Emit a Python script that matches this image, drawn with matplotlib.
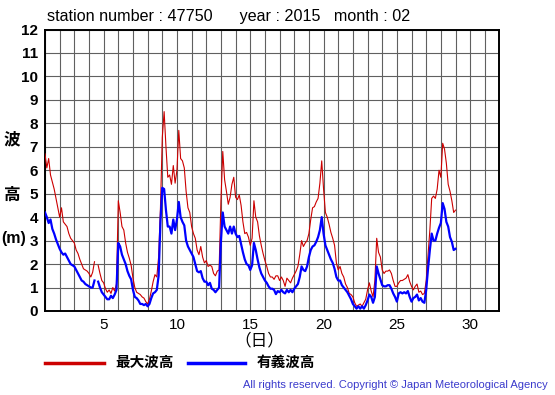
import numpy as np
import matplotlib
import matplotlib.pyplot as plt

matplotlib.use("Agg")

plt.rcParams["font.family"] = ["Liberation Sans", "Noto Sans CJK JP", "DejaVu Sans"]

RED = "#cc0000"
BLUE = "#0000ff"
GRID = "#606060"

W, H = 555, 395

# 3-hourly values, Feb 1 00h .. Mar 1 00h (nan = missing)
max_wave = [
    6.7, 6.1, 6.5, 5.8, 5.5, 5.2, 4.8, 4.4,
    4.0, 4.4, 3.8, 3.7, 3.6, 3.3, 3.1, 3.0,
    2.9, 2.6, 2.45, 2.2, 2.0, 1.8, 1.75, 1.7,
    1.6, 1.45, 1.65, 2.1, np.nan, 1.95, 1.6, 1.3,
    1.2, 0.95, 0.8, 0.9, 0.75, 1.0, 0.85, 1.15,
    4.7, 4.2, 3.6, 3.45, 2.9, 2.5, 2.25, 1.95,
    1.4, 1.0, 0.8, 0.75, 0.7, 0.6, 0.55, 0.4,
    0.3, 0.5, 0.85, 1.25, 1.55, 1.45, 2.3, 4.4,
    7.4, 8.5, 7.0, 5.7, 5.8, 5.4, 6.2, 5.45,
    6.0, 7.7, 6.5, 6.4, 6.1, 5.1, 4.4, 4.2,
    3.6, 3.3, 3.1, 2.6, 2.4, 2.75, 2.3, 2.05,
    2.15, 1.9, 1.95, 1.9, 1.6, 1.5, 1.7, 1.75,
    4.7, 6.8, 5.6, 5.1, 4.55, 4.85, 5.4, 5.7,
    4.85, 4.75, 4.95, 4.5, 3.8, 3.3, 3.35, 3.15,
    2.8, 3.1, 4.7, 4.0, 3.8, 3.2, 2.8, 2.45,
    2.15, 1.9, 1.6, 1.45, 1.45, 1.35, 1.5, 1.5,
    1.3, 1.45, 1.3, 1.05, 1.4, 1.3, 1.2, 1.4,
    1.55, 1.7, 1.9, 2.4, 3.0, 2.75, 2.9, 3.0,
    3.3, 3.9, 4.4, 4.45, 4.65, 4.8, 5.45, 6.4,
    5.2, 4.2, 4.0, 3.7, 3.35, 3.1, 2.8, 2.05,
    1.75, 1.9, 1.6, 1.45, 1.15, 1.0, 0.75, 0.7,
    0.6, 0.35, 0.2, 0.25, 0.3, 0.2, 0.35, 0.5,
    0.9, 1.2, 0.85, 0.6, 1.3, 3.1, 2.5, 2.3,
    1.75, 1.6, 1.7, 1.7, 1.75, 1.6, 1.3, 1.05,
    1.05, 1.2, 1.3, 1.3, 1.35, 1.4, 1.55, 1.25,
    1.05, 0.9, 1.05, 1.15, 0.8, 0.85, 0.7, 0.75,
    1.3, 2.4, 3.45, 4.8, 4.9, 4.8, 5.2, 6.0,
    5.7, 7.15, 6.9, 6.3, 5.4, 5.1, 4.7, 4.2,
    4.3,
]

sig_wave = [
    4.2, 4.0, 3.75, 3.9, 3.5, 3.3, 3.05, 2.85,
    2.65, 2.5, 2.4, 2.45, 2.3, 2.15, 2.0, 1.95,
    1.9, 1.75, 1.6, 1.45, 1.3, 1.25, 1.15, 1.1,
    1.05, 1.0, 1.0, 1.3, np.nan, 1.25, 1.0, 0.8,
    0.7, 0.6, 0.5, 0.5, 0.65, 0.55, 0.7, 0.9,
    2.9, 2.75, 2.4, 2.2, 2.0, 1.7, 1.5, 1.35,
    0.9, 0.6, 0.55, 0.45, 0.3, 0.3, 0.25, 0.3,
    0.2, 0.3, 0.55, 0.75, 0.8, 0.9, 1.5, 3.8,
    5.25, 5.2, 4.3, 3.6, 3.6, 3.3, 3.9, 3.45,
    3.9, 4.65, 4.0, 3.8, 3.65, 3.0, 2.75, 2.6,
    2.45, 2.3, 2.0, 1.7, 1.65, 1.7, 1.4, 1.25,
    1.25, 1.1, 1.2, 0.95, 0.9, 0.8, 0.9, 1.0,
    3.0, 4.2, 3.6, 3.45, 3.3, 3.6, 3.3, 3.6,
    3.3, 3.15, 3.2, 2.85, 2.5, 2.2, 2.0, 1.95,
    1.75, 1.95, 2.9, 2.6, 2.2, 1.85, 1.6, 1.45,
    1.3, 1.2, 1.05, 0.95, 0.95, 0.9, 0.72, 0.85,
    0.8, 0.9, 0.8, 0.75, 0.9, 0.8, 0.9, 0.8,
    0.95, 1.05, 1.15, 1.45, 1.9, 1.75, 1.7, 1.9,
    2.3, 2.6, 2.75, 2.8, 2.95, 3.15, 3.45, 4.0,
    3.3, 2.8, 2.6, 2.4, 2.2, 2.05, 1.8, 1.45,
    1.3, 1.3, 1.1, 1.0, 0.9, 0.8, 0.65, 0.5,
    0.3, 0.2, 0.1, 0.2, 0.1, 0.2, 0.1, 0.25,
    0.45, 0.7, 0.6, 0.35, 0.6, 1.9, 1.6, 1.35,
    1.1, 1.05, 1.05, 1.1, 1.1, 0.95, 0.75, 0.6,
    0.4, 0.75, 0.8, 0.75, 0.8, 0.75, 0.85, 0.6,
    0.4, 0.55, 0.6, 0.7, 0.45, 0.55, 0.4, 0.35,
    0.9, 1.8, 2.6, 3.3, 3.0, 3.0, 3.3, 3.55,
    3.75, 4.6, 4.35, 3.8, 3.6, 3.15, 2.95, 2.6,
    2.65,
]

days = 1 + np.arange(len(max_wave)) / 8.0
x_ticks = [5, 10, 15, 20, 25, 30]
y_ticks = list(range(0, 13))


def fx(px):
    return px / W


def fy(py):
    return 1 - py / H


fig = plt.figure(figsize=(W / 100, H / 100), dpi=100)
fig.patch.set_facecolor("white")
ax = fig.add_axes([fx(45), fy(311), (499.5 - 45) / W, (311 - 29.5) / H])

ax.plot(days, max_wave, color=RED, lw=0.8, zorder=3)
ax.plot(days, sig_wave, color=BLUE, lw=1.6, zorder=4)

ax.set_xlim(1, 32)
ax.set_ylim(0, 12)
ax.set_xticks(x_ticks)
ax.set_xticks(range(1, 33), minor=True)
ax.set_yticks(y_ticks)
ax.grid(True, which="both", axis="x", color=GRID, lw=0.8)
ax.grid(True, axis="y", color=GRID, lw=0.8)
ax.tick_params(which="both", length=0)
ax.tick_params(axis="x", labelsize=11, pad=5)
ax.tick_params(axis="y", labelsize=11, pad=5)
for lab in ax.get_yticklabels():
    lab.set_fontweight("bold")
for s in ax.spines.values():
    s.set_linewidth(1.4)
    s.set_color("black")

fig.text(fx(47), fy(16), "station number : 47750      year : 2015   month : 02",
         fontsize=11.6, va="center", ha="left")
fig.text(fx(259), fy(340), "（日）", fontsize=12, ha="center", va="center")
fig.text(fx(12), fy(140), "波", fontsize=12, fontweight="bold", ha="center", va="center")
fig.text(fx(12), fy(195), "高", fontsize=12, fontweight="bold", ha="center", va="center")
fig.text(fx(14), fy(238), "(m)", fontsize=11.5, fontweight="bold", ha="center", va="center")

fig.add_artist(plt.Line2D([fx(45), fx(104)], [fy(363), fy(363)], color=RED, lw=2.5))
fig.text(fx(115), fy(363), "最大波高", fontsize=10.5, fontweight="bold", va="center")
fig.add_artist(plt.Line2D([fx(188), fx(245)], [fy(363), fy(363)], color=BLUE, lw=2.5))
fig.text(fx(257), fy(363), "有義波高", fontsize=10.5, fontweight="bold", va="center")

fig.text(fx(548), fy(385), "All rights reserved. Copyright © Japan Meteorological Agency",
         fontsize=8, color="#3a3acc", ha="right", va="center")

fig.savefig("out.png", dpi=100)
